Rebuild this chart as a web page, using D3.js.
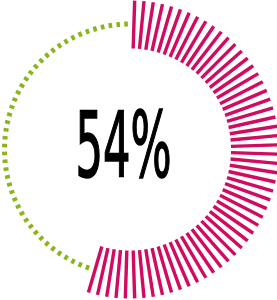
<!DOCTYPE html>
<html>
<head>
<meta charset="utf-8">
<script src="https://cdn.jsdelivr.net/npm/d3@7"></script>
<style>
body{margin:0;background:#fff;overflow:hidden;}
</style>
</head>
<body>
<div id="chart"></div>
<script>
var percent=54;
var ticknum=100;
var label=["54%"];

var width=277,height=300;
var cx=130,cy=149.5;

var svg=d3.select("#chart").append("svg")
    .attr("width",width)
    .attr("height",height)

var angle=d3.scaleLinear().domain([0,ticknum]).range([0,360])
var ticks=d3.range(ticknum).map(function(i){
    return {i:i,on:i<=percent,a:angle(i+0.5)}
})

var g=svg.append("g").attr("transform","translate("+cx+","+cy+")")

g.selectAll(".tick_on")
    .data(ticks.filter(function(d){return d.on}))
    .enter().append("line")
    .attr("class","tick_on")
    .attr("x1",0).attr("x2",0)
    .attr("y1",-101).attr("y2",-149)
    .attr("transform",function(d){return "rotate("+d.a+")"})
    .style("stroke","#d10a62")
    .style("stroke-width",3.4)

g.selectAll(".tick_off")
    .data(ticks.filter(function(d){return !d.on}))
    .enter().append("line")
    .attr("class","tick_off")
    .attr("x1",0).attr("x2",0)
    .attr("y1",-123).attr("y2",-128)
    .attr("transform",function(d){return "rotate("+d.a+")"})
    .style("stroke","#8cb41e")
    .style("stroke-width",3.6)

svg.append("text")
    .attr("x",cx-6.5)
    .attr("y",177)
    .attr("text-anchor","middle")
    .attr("textLength",96)
    .attr("lengthAdjust","spacingAndGlyphs")
    .style("font-family","'Liberation Sans Narrow','DejaVu Sans Condensed',sans-serif")
    .style("font-weight","normal")
    .style("font-size","90px")
    .style("fill","#000")
    .style("stroke","#000")
    .style("stroke-width",1.6)
    .text(label[0])
</script>
</body>
</html>
